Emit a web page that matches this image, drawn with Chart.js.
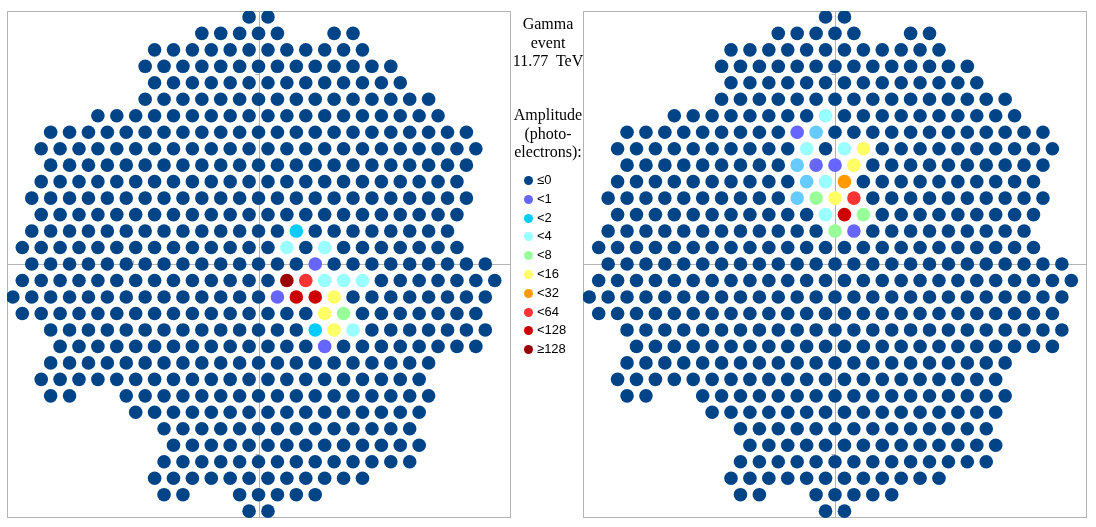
<!DOCTYPE html>
<html>
<head>
<meta charset="utf-8">
<script src="https://cdn.jsdelivr.net/npm/chart.js@4.4.1/dist/chart.umd.min.js"></script>
<style>
  body { margin: 0; background: #fff; width: 1096px; height: 527px; overflow: hidden; position: relative; }
  canvas { position: absolute; top: 0; }
  #leftCam { left: 0; }
  #rightCam { left: 575px; }
  .info { position: absolute; left: 508px; width: 80px; text-align: center; font-family: 'Liberation Serif', 'Times New Roman', serif; font-size: 16px; line-height: 18.5px; color: #000; white-space: pre; }
  #title { top: 15px; }
  #ampTitle { top: 106px; }
  .item { position: absolute; left: 524px; height: 18px; line-height: 18px; font-family: 'Liberation Sans', Arial, sans-serif; font-size: 13px; color: #000; }
  .item span.dot { display: inline-block; width: 9px; height: 9px; border-radius: 50%; vertical-align: -1px; margin-right: 4px; }
</style>
</head>
<body>
<canvas id="leftCam" width="520" height="527"></canvas>
<div class="info" id="title">Gamma
event
11.77  TeV</div>
<div class="info" id="ampTitle">Amplitude
(photo-
electrons):</div>
<div id="legend"></div>
<canvas id="rightCam" width="520" height="527"></canvas>

<script>
// camera layout: for every pixel row (top to bottom) the column segments [from, to]
// columns counted in half pixel steps, so odd rows use even columns and even rows odd ones
const rowSegments = [
  [[-1, 1]],
  [[-6, 2], [8, 10]],
  [[-11, 11]],
  [[-12, 14]],
  [[-11, 15]],
  [[-12, 18]],
  [[-17, 19]],
  [[-22, 22]],
  [[-23, 23]],
  [[-22, 22]],
  [[-23, 21]],
  [[-24, 22]],
  [[-23, 21]],
  [[-24, 20]],
  [[-25, 21]],
  [[-24, 24]],
  [[-25, 25]],
  [[-26, 24]],
  [[-25, 23]],
  [[-22, 24]],
  [[-21, 23]],
  [[-22, 18]],
  [[-23, 17]],
  [[-22, -20], [-14, 18]],
  [[-13, 17]],
  [[-10, 16]],
  [[-9, 17]],
  [[-10, 16]],
  [[-11, 11]],
  [[-10, -8], [-2, 6]],
  [[-1, 1]]
];

const levelLabels = ['≤0', '<1', '<2', '<4', '<8', '<16', '<32', '<64', '<128', '≥128'];
// last colour (10) is the pale blue seen on a few right camera pixels, not in the legend
const levelColors = ['#004488', '#6666FF', '#00CCFF', '#99FFFF', '#99FF99', '#FFFF66', '#FF9900', '#FF3333', '#CC0000', '#990000', '#66CCFF'];

// lit pixels: [row, column, level]
const leftHits = [
  [13, 4, 2],
  [14, 3, 3], [14, 7, 3],
  [15, 6, 1],
  [16, 3, 9], [16, 5, 7], [16, 7, 3], [16, 9, 3], [16, 11, 3],
  [17, 2, 1], [17, 4, 8], [17, 6, 8], [17, 8, 5],
  [18, 7, 5], [18, 9, 4],
  [19, 6, 2], [19, 8, 5], [19, 10, 3],
  [20, 7, 1]
];

const rightHits = [
  [6, -1, 3],
  [7, -4, 1], [7, -2, 10],
  [8, -3, 3], [8, 1, 3], [8, 3, 5],
  [9, -4, 10], [9, -2, 1], [9, 0, 1], [9, 2, 5],
  [10, -3, 10], [10, -1, 3], [10, 1, 6],
  [11, -4, 10], [11, -2, 4], [11, 0, 5], [11, 2, 7],
  [12, -1, 3], [12, 1, 8], [12, 3, 4],
  [13, 0, 4], [13, 2, 1]
];

const centerRow = 15;
const tickStep = 3.33;

function pixelPos(row, col) {
  return { x: col / 2, y: (centerRow - row) * Math.sqrt(3) / 2 };
}

function buildDatasets(hits) {
  const lit = {};
  hits.forEach(h => lit[h[0] + ':' + h[1]] = h[2]);
  const groups = levelColors.map(() => []);
  rowSegments.forEach((segs, row) => {
    segs.forEach(s => {
      for (let c = s[0]; c <= s[1]; c += 2) {
        const lvl = lit[row + ':' + c] !== undefined ? lit[row + ':' + c] : 0;
        groups[lvl].push(pixelPos(row, c));
      }
    });
  });
  return groups.map((pts, i) => ({
    data: pts,
    backgroundColor: levelColors[i],
    pointBackgroundColor: levelColors[i],
    pointRadius: 6.8,
    pointHoverRadius: 6.8,
    pointBorderWidth: 0,
    showLine: false
  }));
}

// frame + crosshair with small ticks, drawn under the pixels
const framePlugin = {
  id: 'frame',
  beforeDatasetsDraw(chart) {
    const { ctx, chartArea: a, scales } = chart;
    const x0 = Math.round(scales.x.getPixelForValue(0)) + 0.5;
    const y0 = Math.round(scales.y.getPixelForValue(0)) + 0.5;
    ctx.save();
    ctx.strokeStyle = '#b4b4b4';
    ctx.lineWidth = 1;
    ctx.strokeRect(a.left + 0.5, a.top + 0.5, a.right - a.left - 1, a.bottom - a.top - 1);
    ctx.beginPath();
    ctx.moveTo(x0, a.top); ctx.lineTo(x0, a.bottom);
    ctx.moveTo(a.left, y0); ctx.lineTo(a.right, y0);
    for (let k = -3; k <= 3; k++) {
      if (k === 0) continue;
      const tx = Math.round(scales.x.getPixelForValue(k * tickStep)) + 0.5;
      ctx.moveTo(tx, y0); ctx.lineTo(tx, y0 - 4);
      const ty = Math.round(scales.y.getPixelForValue(k * tickStep)) + 0.5;
      ctx.moveTo(x0, ty); ctx.lineTo(x0 - 4, ty);
    }
    ctx.stroke();
    ctx.restore();
  }
};

function makeCamera(id, hits, pad, xr, yr) {
  return new Chart(document.getElementById(id), {
    type: 'scatter',
    data: { datasets: buildDatasets(hits) },
    options: {
      responsive: false,
      animation: false,
      layout: { padding: pad },
      plugins: { legend: { display: false }, tooltip: { enabled: false }, title: { display: false } },
      scales: {
        x: { type: 'linear', display: false, min: xr[0], max: xr[1] },
        y: { type: 'linear', display: false, min: yr[0], max: yr[1] }
      }
    },
    plugins: [framePlugin]
  });
}

const leftChart = makeCamera('leftCam', leftHits, { left: 7, top: 11, right: 9, bottom: 9 }, [-13.31, 13.36], [-13.35, 13.30]);
const rightChart = makeCamera('rightCam', rightHits, { left: 8, top: 11, right: 8, bottom: 9 }, [-13.33, 13.33], [-13.35, 13.30]);

// legend column in the middle
const legend = document.getElementById('legend');
let box = '';
levelLabels.forEach((lab, i) => {
  const top = 180 + i * 18.8 - 9;
  box += `<div class="item" style="top:${top}px"><span class="dot" style="background:${levelColors[i]}"></span>${lab}</div>`;
});
legend.innerHTML = box;
</script>
</body>
</html>
